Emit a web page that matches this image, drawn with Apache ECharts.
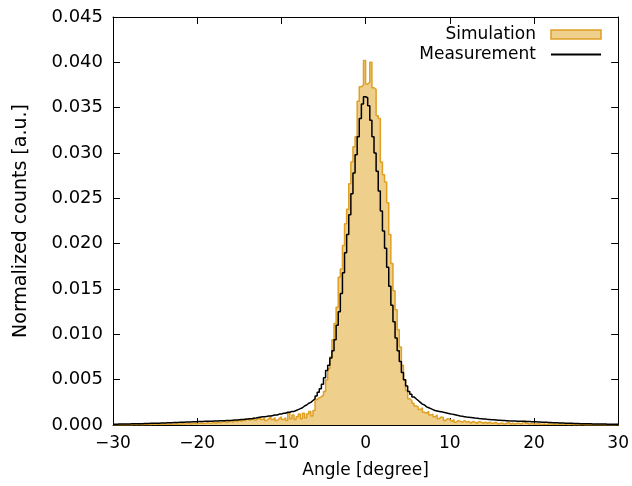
<!DOCTYPE html>
<html>
<head>
<meta charset="utf-8">
<script src="https://cdn.jsdelivr.net/npm/echarts@6/dist/echarts.min.js"></script>
<style>
  html, body { margin: 0; padding: 0; background: #fff; }
  #chart { width: 632px; height: 486px; }
</style>
</head>
<body>
<div id="chart"></div>
<script>
// histogram bins: 0.25 degree wide, from -30 to 30 (240 bins)
const binStart = -30;
const binWidth = 0.25;

// normalized counts per bin, 4 bins per degree
const measurement = [
  0.00009, 0.00009, 0.0001, 0.0001, 0.00011, 0.00011, 0.00012, 0.00012,
  0.00013, 0.00013, 0.00014, 0.00014, 0.00015, 0.00015, 0.00016, 0.00016,
  0.00017, 0.00018, 0.00018, 0.00019, 0.0002, 0.0002, 0.00021, 0.00022,
  0.00023, 0.00024, 0.00025, 0.00026, 0.00027, 0.00028, 0.00028, 0.00029,
  0.0003, 0.00031, 0.00032, 0.00033, 0.00034, 0.00035, 0.00036, 0.00037,
  0.00038, 0.00038, 0.00039, 0.0004, 0.0004, 0.00041, 0.00042, 0.00043,
  0.00044, 0.00045, 0.00046, 0.00047, 0.00048, 0.00049, 0.0005, 0.00051,
  0.00053, 0.00055, 0.00056, 0.00058, 0.0006, 0.00062, 0.00064, 0.00066,
  0.0007, 0.00068, 0.00075, 0.00078, 0.00082, 0.00086, 0.0009, 0.00092,
  0.00095, 0.00098, 0.001, 0.00105, 0.0011, 0.0011, 0.0012, 0.0012,
  0.0013, 0.0013, 0.0014, 0.0014, 0.0015, 0.0015, 0.0016, 0.0017,
  0.0018, 0.0019, 0.0021, 0.0022, 0.0024, 0.0025, 0.0027, 0.0029,
  0.0032, 0.0036, 0.004, 0.0045, 0.0052, 0.006, 0.0066, 0.0074,
  0.0082, 0.0094, 0.011, 0.0125, 0.0145, 0.0168, 0.019, 0.021,
  0.0232, 0.0255, 0.0278, 0.0298, 0.0318, 0.0338, 0.0354, 0.0362,
  0.0361, 0.0352, 0.0336, 0.0318, 0.03, 0.028, 0.0258, 0.0236,
  0.0214, 0.0195, 0.0174, 0.0153, 0.0132, 0.0114, 0.0096, 0.0082,
  0.007, 0.0058, 0.005, 0.0043, 0.0037, 0.0034, 0.0031, 0.0029,
  0.0027, 0.0025, 0.0023, 0.0022, 0.002, 0.0019, 0.0018, 0.0017,
  0.0016, 0.00155, 0.0015, 0.00145, 0.0014, 0.00135, 0.0013, 0.00125,
  0.0012, 0.00115, 0.0011, 0.00105, 0.001, 0.00096, 0.00092, 0.00088,
  0.00085, 0.00082, 0.00079, 0.00076, 0.00074, 0.00071, 0.00069, 0.00067,
  0.00065, 0.00062, 0.0006, 0.00058, 0.00057, 0.00055, 0.00053, 0.00052,
  0.0005, 0.00049, 0.00048, 0.00046, 0.00045, 0.00044, 0.00043, 0.00042,
  0.00041, 0.0004, 0.0004, 0.00039, 0.00039, 0.00038, 0.00037, 0.00036,
  0.00035, 0.00034, 0.00033, 0.00031, 0.0003, 0.00029, 0.00028, 0.00027,
  0.00026, 0.00025, 0.00024, 0.00023, 0.00022, 0.00021, 0.0002, 0.00019,
  0.00018, 0.00018, 0.00017, 0.00016, 0.00016, 0.00015, 0.00015, 0.00014,
  0.00014, 0.00013, 0.00013, 0.00012, 0.00012, 0.00011, 0.00011, 0.0001,
  0.0001, 0.0001, 0.00009, 0.00009, 0.00009, 0.00008, 0.00008, 0.00008
];

const simulation = [
  0.00004, 0.00002, 0.00005, 0.00003, 0.00005, 0.00003, 0.00006, 0.00002,
  0.00004, 0.00007, 0.00003, 0.00005, 0.00006, 0.00004, 0.00008, 0.00005,
  0.00007, 0.00005, 0.0001, 0.00006, 0.00008, 0.0001, 0.00006, 0.0001,
  0.0001, 0.00007, 0.00012, 0.00008, 0.0001, 0.00013, 0.00008, 0.00012,
  0.00015, 0.0001, 0.00013, 0.00018, 0.00012, 0.00016, 0.0002, 0.00014,
  0.00018, 0.00022, 0.00016, 0.0002, 0.00025, 0.00018, 0.00022, 0.00028,
  0.0002, 0.0003, 0.00025, 0.00032, 0.0004, 0.00028, 0.00035, 0.00045,
  0.0003, 0.0005, 0.00038, 0.00055, 0.0004, 0.0006, 0.00045, 0.0007,
  0.0005, 0.00065, 0.0008, 0.00055, 0.0007, 0.0009, 0.0006, 0.00075,
  0.0005, 0.0007, 0.0009, 0.0006, 0.0008, 0.0005, 0.0007, 0.0009,
  0.0006, 0.0008, 0.0005, 0.0013, 0.0007, 0.0011, 0.0006, 0.0009,
  0.0012, 0.0007, 0.0013, 0.0008, 0.0012, 0.0015, 0.001, 0.0016,
  0.0028, 0.003, 0.0031, 0.0033, 0.0037, 0.005, 0.0062, 0.0075,
  0.0094, 0.0112, 0.013, 0.0163, 0.0172, 0.0198, 0.0222, 0.0238,
  0.0266, 0.029, 0.0307, 0.0318, 0.0357, 0.0373, 0.0375, 0.0402,
  0.0376, 0.0378, 0.04, 0.0372, 0.037, 0.0341, 0.0338, 0.029,
  0.0276, 0.0268, 0.0245, 0.021, 0.0178, 0.0148, 0.0127, 0.0105,
  0.0086, 0.0066, 0.005, 0.0038, 0.0029, 0.0027, 0.0024, 0.0021,
  0.002, 0.0017, 0.0019, 0.0014, 0.0013, 0.0015, 0.0011, 0.0012,
  0.0009, 0.0011, 0.0007, 0.0009, 0.0008, 0.0005, 0.0007, 0.0006,
  0.0004, 0.0006, 0.0003, 0.0005, 0.0004, 0.0003, 0.0005, 0.0003,
  0.0004, 0.0002, 0.0004, 0.0003, 0.0002, 0.0004, 0.0003, 0.0002,
  0.0003, 0.0002, 0.0003, 0.0002, 0.0002, 0.0003, 0.0001, 0.0002,
  0.0002, 0.0001, 0.0002, 0.0003, 0.0001, 0.0002, 0.0001, 0.0002,
  0.0002, 0.0001, 0.0003, 0.0005, 0.0002, 0.0001, 0.0002, 0.0001,
  0.0001, 0.00015, 0.0001, 0.00005, 0.0001, 0.00005, 0.0001, 0.00015,
  0.00005, 0.0001, 0.00005, 0.0001, 0.0001, 0.00005, 0.0001, 0.00005,
  0.00005, 0.0001, 0.00003, 0.00008, 0.00005, 0.00003, 0.00008, 0.00004,
  0.00006, 0.00003, 0.00005, 0.00002, 0.00004, 0.00006, 0.00002, 0.00005,
  0.00003, 0.00005, 0.00002, 0.00004, 0.00002, 0.00004, 0.00003, 0.00005
];

const seriesNames = ["Simulation", "Measurement"];
const xTicks = [-30, -20, -10, 0, 10, 20, 30];
const yTicks = [0, 0.005, 0.01, 0.015, 0.02, 0.025, 0.03, 0.035, 0.04, 0.045];

const FONT = "DejaVu Sans";
const GOLD_FILL = "#eecf8c";
const GOLD_LINE = "#dfa024";

// [left edge, value] points, closed with the right edge of the last bin
function toSteps(values) {
  const pts = values.map((v, i) => [binStart + i * binWidth, v]);
  pts.push([binStart + values.length * binWidth, values[values.length - 1]]);
  return pts;
}

const minus = (v) => String(v).replace("-", "\u2212");

function xAxis(pos) {
  return {
    type: "value",
    position: pos,
    min: xTicks[0],
    max: xTicks[xTicks.length - 1],
    interval: 10,
    name: pos === "bottom" ? "Angle [degree]" : "",
    nameLocation: "middle",
    nameGap: 37,
    nameTextStyle: { fontFamily: FONT, fontSize: 17, color: "#000" },
    axisLine: { show: true, onZero: false, lineStyle: { color: "#000", width: 1 } },
    axisTick: { show: true, inside: true, length: 7, lineStyle: { color: "#000" } },
    axisLabel: {
      show: pos === "bottom",
      margin: 10,
      fontFamily: FONT,
      fontSize: 17,
      color: "#000",
      formatter: minus,
    },
    splitLine: { show: false },
  };
}

function yAxis(pos) {
  return {
    type: "value",
    position: pos,
    min: yTicks[0],
    max: yTicks[yTicks.length - 1],
    interval: 0.005,
    name: pos === "left" ? "Normalized counts [a.u.]" : "",
    nameLocation: "middle",
    nameGap: 82,
    nameTextStyle: { fontFamily: FONT, fontSize: 19, color: "#000" },
    axisLine: { show: true, onZero: false, lineStyle: { color: "#000", width: 1 } },
    axisTick: { show: true, inside: true, length: 7, lineStyle: { color: "#000" } },
    axisLabel: {
      show: pos === "left",
      margin: 10,
      fontFamily: FONT,
      fontSize: 18,
      color: "#000",
      formatter: (v) => v.toFixed(3),
    },
    splitLine: { show: false },
  };
}

const chart = echarts.init(document.getElementById("chart"), null, { renderer: "canvas" });
chart.setOption({
  animation: false,
  backgroundColor: "#fff",
  grid: { left: 113, right: 8, top: 17, bottom: 61 },
  legend: {
    orient: "vertical",
    right: 25,
    top: 21,
    align: "right",
    itemWidth: 50,
    itemHeight: 9,
    itemGap: 3,
    textStyle: { fontFamily: FONT, fontSize: 17, color: "#000", padding: [0, 10, 0, 0] },
    data: [
      {
        name: seriesNames[0],
        icon: "rect",
        itemStyle: { color: GOLD_FILL, borderColor: GOLD_LINE, borderWidth: 1.5 },
      },
      { name: seriesNames[1], itemStyle: { opacity: 0 } },
    ],
  },
  xAxis: [xAxis("bottom"), xAxis("top")],
  yAxis: [yAxis("left"), yAxis("right")],
  series: [
    {
      name: seriesNames[0],
      type: "line",
      step: "end",
      symbol: "none",
      data: toSteps(simulation),
      itemStyle: { color: GOLD_FILL },
      lineStyle: { color: GOLD_LINE, width: 1.5 },
      areaStyle: { color: GOLD_FILL, opacity: 1 },
    },
    {
      name: seriesNames[1],
      type: "line",
      step: "end",
      symbol: "none",
      data: toSteps(measurement),
      itemStyle: { color: "#000" },
      lineStyle: { color: "#000", width: 1.5 },
      z: 3,
    },
  ],
});
</script>
</body>
</html>
